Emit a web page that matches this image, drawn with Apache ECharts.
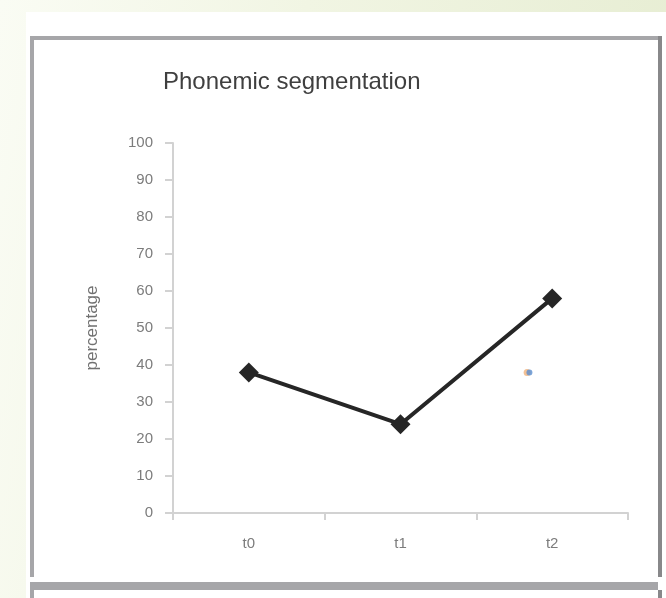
<!DOCTYPE html>
<html>
<head>
<meta charset="utf-8">
<script src="https://cdn.jsdelivr.net/npm/echarts@6/dist/echarts.min.js"></script>
<style>
  html, body { margin: 0; padding: 0; }
  body { width: 666px; height: 598px; overflow: hidden; position: relative;
         background: linear-gradient(100deg, #fafcf4 0%, #f1f5e3 40%, #e5ecd0 100%); }
  .white { position: absolute; left: 26px; top: 12px; right: 0; bottom: 0; background: #ffffff; }
  .frame { position: absolute; background: #a6a6a9; }
  #chart { position: absolute; left: 0; top: 0; width: 666px; height: 598px; }
</style>
</head>
<body>
<div class="white"></div>
<div class="frame" style="left:30px;top:36px;width:632px;height:4px;"></div>
<div class="frame" style="left:30px;top:36px;width:4px;height:541px;"></div>
<div class="frame" style="left:658px;top:36px;width:4px;height:541px;background:#88888a;"></div>
<div class="frame" style="left:30px;top:582px;width:628px;height:8px;"></div>
<div class="frame" style="left:30px;top:589px;width:4px;height:9px;"></div>
<div class="frame" style="left:658px;top:590px;width:4px;height:8px;background:#88888a;"></div>
<div id="chart"></div>
<script>
const categories = ['t0', 't1', 't2'];
const percentages = [38, 24, 58];
const strayOrange = [[2.335, 38]];
const strayBlue = [[2.35, 38]];
const yTicks = { min: 0, max: 100, interval: 10 };

const chart = echarts.init(document.getElementById('chart'), null, { renderer: 'canvas' });
chart.setOption({
  backgroundColor: 'transparent',
  animation: false,
  title: {
    text: 'Phonemic segmentation',
    left: 163, top: 70, padding: 0,
    textStyle: { fontFamily: 'Liberation Sans', fontSize: 24, fontWeight: 'normal', color: '#3f3f3f' }
  },
  grid: { left: 173, right: 38, top: 143, bottom: 85, containLabel: false },
  xAxis: [{
    type: 'category',
    data: categories,
    boundaryGap: true,
    axisLine: { lineStyle: { color: '#d2d2d2', width: 2 } },
    axisTick: { show: true, length: 7, lineStyle: { color: '#d2d2d2', width: 2 } },
    axisLabel: { margin: 23, fontFamily: 'Liberation Sans', fontSize: 15, color: '#7c7c7c' },
    splitLine: { show: false }
  }, {
    type: 'value', min: 0, max: 3, show: false, position: 'bottom'
  }],
  yAxis: {
    type: 'value',
    min: yTicks.min, max: yTicks.max, interval: yTicks.interval,
    name: 'percentage',
    nameLocation: 'middle',
    nameGap: 72,
    nameTextStyle: { fontFamily: 'Liberation Sans', fontSize: 17, color: '#707070' },
    axisLine: { show: true, lineStyle: { color: '#d2d2d2', width: 2 } },
    axisTick: { show: true, length: 8, lineStyle: { color: '#d2d2d2', width: 2 } },
    axisLabel: { margin: 20, fontFamily: 'Liberation Sans', fontSize: 15, color: '#7c7c7c' },
    splitLine: { show: false }
  },
  series: [{
    type: 'line',
    data: percentages,
    xAxisIndex: 0,
    symbol: 'diamond',
    symbolSize: 20,
    lineStyle: { color: '#262626', width: 4 },
    itemStyle: { color: '#262626' },
    z: 3
  }, {
    type: 'scatter', xAxisIndex: 1, data: strayOrange, symbolSize: 7,
    itemStyle: { color: '#f0b27a' }, z: 4
  }, {
    type: 'scatter', xAxisIndex: 1, data: strayBlue, symbolSize: 6,
    itemStyle: { color: '#5b8fd0', opacity: 0.8 }, z: 5
  }]
});
</script>
</body>
</html>
